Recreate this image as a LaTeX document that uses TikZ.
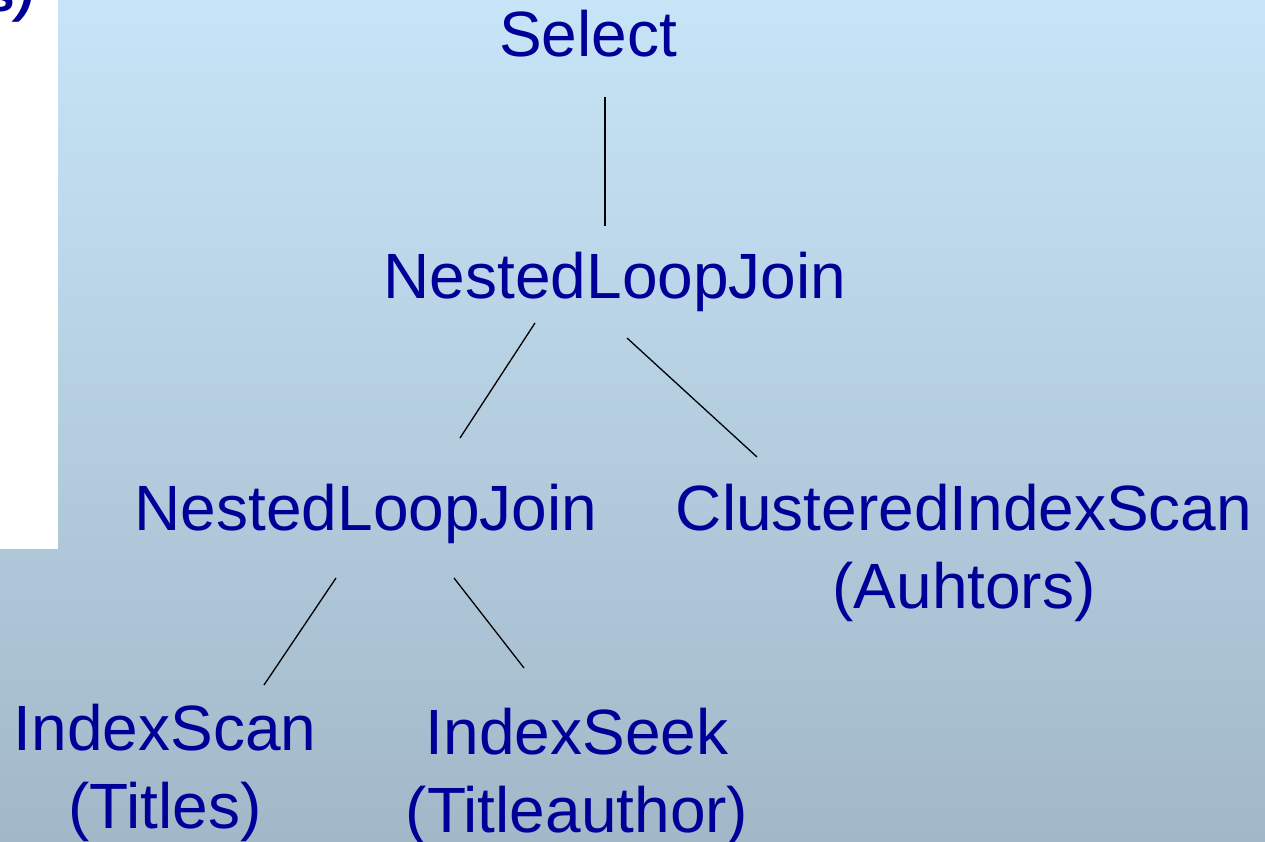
\documentclass[tikz,border=0pt]{standalone}
\usepackage{fontspec}
\setmainfont{Liberation Sans}
\definecolor{bgtop}{RGB}{199,229,248}
\definecolor{bgbottom}{RGB}{162,184,200}
\definecolor{opblue}{RGB}{0,0,153}
\tikzset{
  op/.style={font=\fontsize{64}{78}\selectfont, text=opblue, anchor=base,
             align=center, inner sep=0pt},
  edge/.style={draw=black, line width=1.3pt}
}
\begin{document}
\begin{tikzpicture}[x=1pt, y=-1pt]
  \useasboundingbox (0,0) rectangle (1265,842);
  % slide background
  \shade[top color=bgtop, bottom color=bgbottom] (0,0) rectangle (1265,842);
  % white panel on the left
  \fill[white] (0,0) rectangle (58,549);
  \node[font=\fontsize{52}{54}\bfseries\itshape\selectfont, text=opblue,
        anchor=base east, inner sep=0pt] (cut) at (34,12) {s)};

  % plan operators (multi-line nodes are placed by their last line)
  \node[op] (sel)  at (588,57)  {Select};
  \node[op] (nlj1) at (615,298) {NestedLoopJoin};
  \node[op] (nlj2) at (366,530) {NestedLoopJoin};
  \node[op] (cis)  at (964,608) {ClusteredIndexScan\\(Auhtors)};
  \node[op] (isc)  at (165,828) {IndexScan\\(Titles)};
  \node[op] (isk)  at (577,832) {IndexSeek\\(Titleauthor)};

  % connector end points
  \coordinate (a1) at (605,97);  \coordinate (a2) at (605,226);
  \coordinate (b1) at (535,323); \coordinate (b2) at (460,438);
  \coordinate (c1) at (627,338); \coordinate (c2) at (757,457);
  \coordinate (d1) at (336,578); \coordinate (d2) at (264,685);
  \coordinate (e1) at (454,578); \coordinate (e2) at (524,668);

  \draw[edge] (a1) -- (a2);
  \draw[edge] (b1) -- (b2);
  \draw[edge] (c1) -- (c2);
  \draw[edge] (d1) -- (d2);
  \draw[edge] (e1) -- (e2);
\end{tikzpicture}
\end{document}
